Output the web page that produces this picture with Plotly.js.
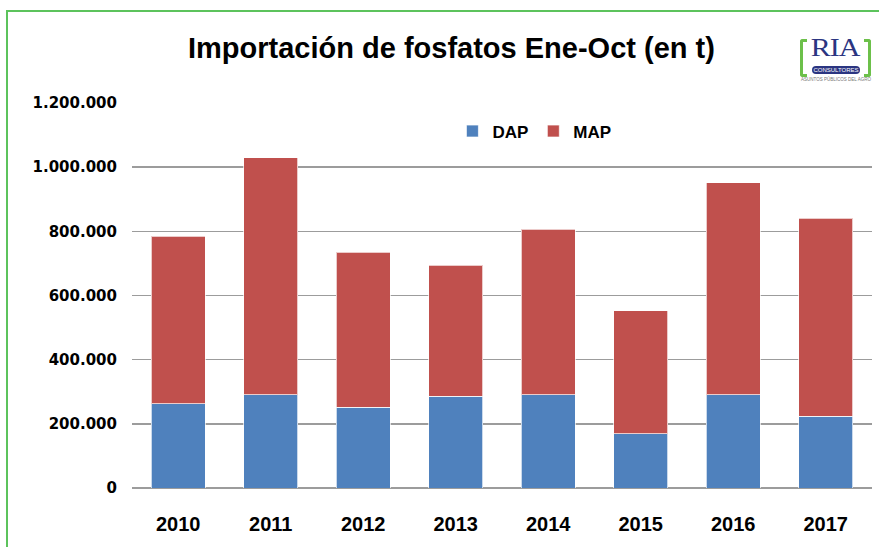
<!DOCTYPE html>
<html>
<head>
<meta charset="utf-8">
<script src="https://cdn.plot.ly/plotly-3.0.1.min.js"></script>
<style>
  html, body { margin:0; padding:0; background:#ffffff; }
  #wrap { position:relative; width:879px; height:547px; overflow:hidden; background:#fff; }
  #frame { position:absolute; left:6px; top:10px; width:900px; height:600px;
           border-left:2px solid #5cc35c; border-top:2px solid #5cc35c; }
  #chart { position:absolute; left:0; top:0; width:879px; height:547px; }
  #logo { position:absolute; left:798px; top:36px; width:76px; height:50px; font-family:"Liberation Serif", serif; }
  .br { position:absolute; top:3px; width:4px; height:32px; border:3px solid #6cc04a; }
  .bl { left:2px; border-right:none; border-radius:3px 0 0 3px; }
  .brr { left:66px; border-left:none; border-radius:0 3px 3px 0; }
  #ria { position:absolute; left:12px; top:-1px; width:50px; text-align:center; font-size:30px; color:#2b3581; line-height:30px; transform:scaleY(0.85); transform-origin:top; letter-spacing:-1px;}
  #pill { position:absolute; left:14px; top:30px; width:48px; height:8px; background:#2b3581; border-radius:4px;
          color:#fff; font-family:"Liberation Sans", Arial, sans-serif; font-size:6px; line-height:8px; text-align:center; }
  #sub { position:absolute; left:0px; top:41px; width:76px; text-align:center; font-family:"Liberation Sans", Arial, sans-serif;
         font-size:4.5px; color:#777; white-space:nowrap; }
</style>
</head>
<body>
<div id="wrap">
  <div id="frame"></div>
  <div id="chart"></div>
  <div id="logo">
    <div class="br bl"></div><div class="br brr"></div>
    <div id="ria">RIA</div>
    <div id="pill">CONSULTORES</div>
    <div id="sub">ASUNTOS PÚBLICOS DEL AGRO</div>
  </div>
</div>
<script>
const years = ['2010','2011','2012','2013','2014','2015','2016','2017'];
const dap = [263000, 290000, 252000, 286000, 290000, 169000, 290000, 224000];
const map = [521000, 740000, 483000, 409000, 517000, 383000, 661000, 617000];
const yTickVals = [0, 200000, 400000, 600000, 800000, 1000000, 1200000];
const yTickText = ['0', '200.000', '400.000', '600.000', '800.000', '1.000.000', '1.200.000'];

const lineStyle = {color:'rgba(255,255,255,0.7)', width:1};
const traces = [
  {type:'bar', name:'DAP', x:years, y:dap, marker:{color:'#4f81bd', line:lineStyle}},
  {type:'bar', name:'MAP', x:years, y:map, marker:{color:'#c0504d', line:lineStyle}}
];

const layout = {
  width:879, height:547,
  barmode:'stack', bargap:0.42,
  paper_bgcolor:'rgba(0,0,0,0)', plot_bgcolor:'rgba(0,0,0,0)',
  margin:{l:132, r:7, t:102.5, b:59},
  showlegend:true,
  legend:{orientation:'h', x:0.433, xanchor:'left', y:0.926, yanchor:'middle',
          font:{family:'Arial, "Liberation Sans", sans-serif', size:17, color:'#000', weight:'bold'},
          traceorder:'normal', itemwidth:30, bgcolor:'rgba(0,0,0,0)'},
  annotations:[{
    text:'<b>Importación de fosfatos Ene-Oct (en t)</b>',
    xref:'paper', yref:'paper', x:(451-132)/740, y:1 + (102.5-47)/385.5,
    xanchor:'center', yanchor:'middle', showarrow:false,
    font:{family:'Arial, "Liberation Sans", sans-serif', size:29, color:'#000'}
  }],
  xaxis:{
    type:'category', showgrid:false, zeroline:false, showline:false,
    ticks:'', ticklabelstandoff:22,
    tickfont:{family:'Arial, "Liberation Sans", sans-serif', size:20, color:'#000', weight:'bold'}
  },
  yaxis:{
    range:[0,1200000], tickvals:yTickVals, ticktext:yTickText,
    showgrid:true, gridcolor:'#9c9c9c', gridwidth:1.6,
    zeroline:true, zerolinecolor:'#9c9c9c', zerolinewidth:1.6,
    showline:false, ticks:'', ticklabelstandoff:14,
    tickfont:{family:'"DejaVu Sans", sans-serif', size:15, color:'#000', weight:'bold'}
  }
};

Plotly.newPlot('chart', traces, layout, {displayModeBar:false, staticPlot:true});
</script>
</body>
</html>
